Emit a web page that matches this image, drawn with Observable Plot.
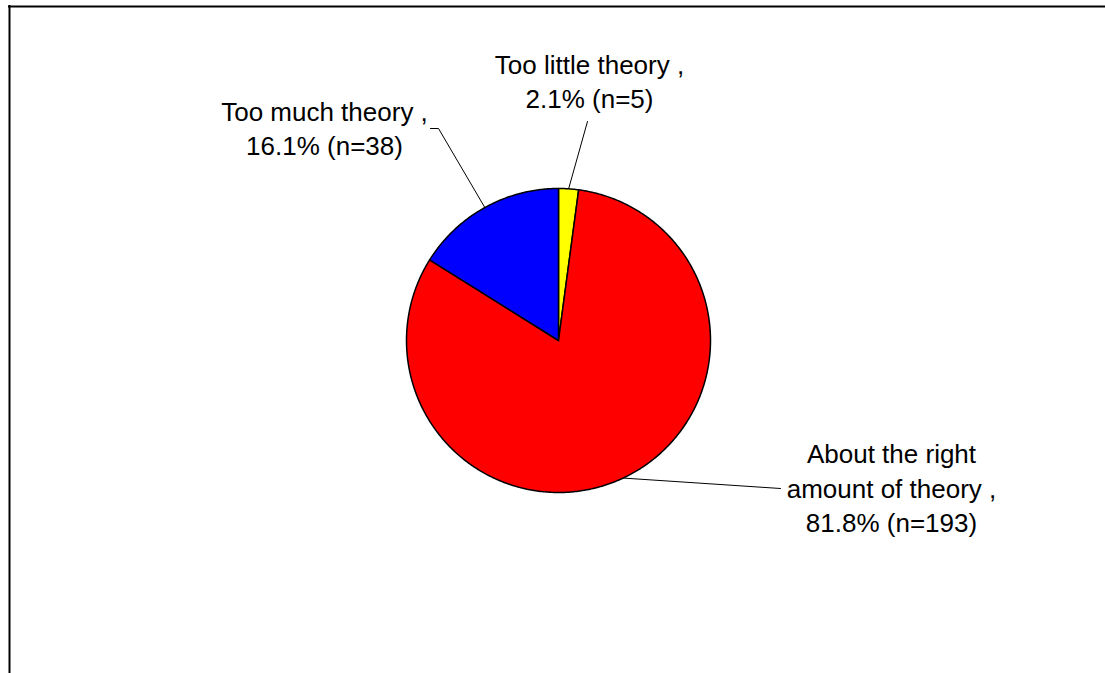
<!DOCTYPE html>
<html><head><meta charset="utf-8">
<script src="https://cdn.jsdelivr.net/npm/d3@7"></script>
<script src="https://cdn.jsdelivr.net/npm/@observablehq/plot@0.6"></script>
<style>
html,body{margin:0;padding:0;background:#fff;overflow:hidden;}
#chart{position:absolute;left:0;top:0;}
</style></head><body>
<div id="chart"></div>
<script>
// ---- data ----
const categories = ["Too little theory", "About the right amount of theory", "Too much theory"];
const counts = [5, 193, 38];
const percents = [2.1, 81.8, 16.1];
const colors = ["#ffff00", "#ff0000", "#0000ff"];
const labelLines = [
  ["Too little theory ,", "2.1% (n=5)"],
  ["About the right", "amount of theory ,", "81.8% (n=193)"],
  ["Too much theory ,", "16.1% (n=38)"]
];

// ---- layout (pixels) ----
const W = 1105, H = 673;
const CX = 558, CY = 340, R = 152;
const FRAME_LEFT = 9, FRAME_TOP = 6;
// label centre and leader path (pixel offsets from pie centre), per category
const labelLayout = [
  {text: [31, -260.5], leader: [[29, -219]]},
  {text: [333, 146], leader: [[222, 148]]},
  {text: [-234, -213.5], leader: [[-120, -212], [-128, -212]]}
];

const pie = d3.pie().sort(null).value(d => d.count).startAngle(0).endAngle(2 * Math.PI);
const rows = categories.map((c, i) => ({category: c, count: counts[i], percent: percents[i], color: colors[i]}));
const arcs = pie(rows);

function slicePoints(a) {
  const pts = [{x: 0, y: 0}];
  const n = Math.max(2, Math.ceil((a.endAngle - a.startAngle) / 0.01));
  for (let k = 0; k <= n; k++) {
    const t = a.startAngle + (a.endAngle - a.startAngle) * k / n;
    pts.push({x: Math.sin(t), y: Math.cos(t)});
  }
  pts.push({x: 0, y: 0});
  return pts;
}

const sliceMarks = arcs.map(a => Plot.line(slicePoints(a), {
  x: "x", y: "y", fill: a.data.color, stroke: "#000", strokeWidth: 1.5, strokeLinejoin: "round", curve: "linear"
}));

const leaderMarks = arcs.map((a, i) => {
  const mid = (a.startAngle + a.endAngle) / 2;
  const pts = [{x: Math.sin(mid), y: Math.cos(mid)}].concat(
    labelLayout[i].leader.map(([dx, dy]) => ({x: dx / R, y: -dy / R})));
  return Plot.line(pts, {x: "x", y: "y", stroke: "#000", strokeWidth: 1});
});

const labels = arcs.map((a, i) => ({
  x: labelLayout[i].text[0] / R,
  y: -labelLayout[i].text[1] / R,
  text: labelLines[i].join("\n")
}));

const xMin = -CX / R, xMax = (W - CX) / R, yMin = -(H - CY) / R, yMax = CY / R;
const frameX = (FRAME_LEFT - CX) / R, frameY = (CY - FRAME_TOP) / R;

const chart = Plot.plot({
  width: W, height: H, margin: 0,
  x: {domain: [xMin, xMax], range: [0, W], axis: null},
  y: {domain: [yMin, yMax], range: [H, 0], axis: null},
  style: {background: "transparent", overflow: "hidden"},
  marks: [
    Plot.ruleY([frameY], {x1: frameX - 1 / R, x2: xMax + 1, stroke: "#000", strokeWidth: 2}),
    Plot.ruleX([frameX], {y1: frameY + 1 / R, y2: yMin - 1, stroke: "#000", strokeWidth: 2}),
    ...leaderMarks,
    ...sliceMarks,
    Plot.text(labels, {x: "x", y: "y", text: "text", fill: "#000", fontSize: 26,
      fontFamily: "Liberation Sans, Arial, sans-serif", textAnchor: "middle", lineAnchor: "middle", lineHeight: 1.33})
  ]
});
document.getElementById("chart").appendChild(chart);
</script>
</body></html>
